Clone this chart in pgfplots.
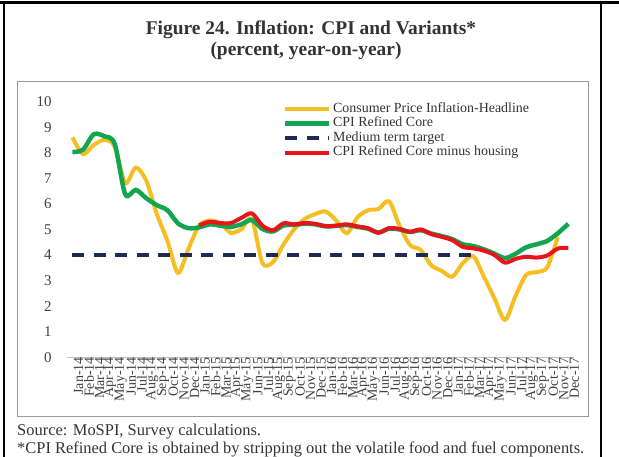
\documentclass[border=0pt]{standalone}
\usepackage{fontspec}
\setmainfont{Liberation Serif}
\usepackage{pgfplots}
\usepackage{pgfplotstable}
\pgfplotsset{compat=1.18}
\definecolor{cpiY}{HTML}{F6BE22}
\definecolor{cpiG}{HTML}{12A650}
\definecolor{cpiR}{HTML}{E8141B}
\definecolor{cpiN}{HTML}{1F2A55}

\pgfplotstableread{
x y
0 8.60
1 7.95
2 8.30
3 8.50
4 8.25
5 6.82
6 7.42
7 6.90
8 5.60
9 4.55
10 3.30
11 4.25
12 5.15
13 5.35
14 5.25
15 4.87
16 5.01
17 5.40
18 3.69
19 3.72
20 4.41
21 5.00
22 5.41
23 5.60
24 5.70
25 5.35
26 4.85
27 5.47
28 5.75
29 5.80
30 6.10
31 5.15
32 4.39
33 4.20
34 3.60
35 3.38
36 3.15
37 3.68
38 3.95
39 3.15
40 2.30
41 1.46
42 2.40
43 3.22
44 3.33
45 3.52
46 4.70
}\headline

\pgfplotstableread{
x y
0 8.03
1 8.12
2 8.72
3 8.65
4 8.35
5 6.38
6 6.55
7 6.22
8 5.95
9 5.75
10 5.24
11 5.05
12 5.08
13 5.20
14 5.15
15 5.10
16 5.20
17 5.37
18 5.02
19 4.92
20 5.15
21 5.18
22 5.22
23 5.20
24 5.12
25 5.14
26 5.17
27 5.10
28 5.03
29 4.88
30 5.03
31 5.00
32 4.90
33 4.97
34 4.84
35 4.74
36 4.62
37 4.42
38 4.35
39 4.22
40 4.05
41 3.88
42 4.05
43 4.30
44 4.42
45 4.55
46 4.85
47 5.22
}\refined

\pgfplotstableread{
x y
12 5.16
13 5.30
14 5.25
15 5.25
16 5.45
17 5.63
18 5.15
19 4.97
20 5.24
21 5.20
22 5.25
23 5.22
24 5.13
25 5.15
26 5.20
27 5.12
28 5.05
29 4.87
30 5.05
31 5.02
32 4.91
33 5.00
34 4.82
35 4.71
36 4.58
37 4.32
38 4.26
39 4.17
40 4.00
41 3.70
42 3.85
43 3.93
44 3.90
45 3.98
46 4.25
47 4.28
}\refinedhousing

\begin{document}
\begin{tikzpicture}[x=1bp,y=1bp]
\useasboundingbox (0,0) rectangle (619,457);
% outer frame
\draw[line width=2.5bp,black] (0,454.5) -- (619,454.5);
\draw[line width=2bp,black] (4,455) -- (4,0);
\draw[line width=2bp,black] (600.5,455) -- (600.5,0);
% inner chart box
\draw[line width=1bp,black!40] (17.5,40) rectangle (588.5,375);
% titles
\node[font=\bfseries\fontsize{19.5}{22}\selectfont,text=black!80] at (311,427.5) {Figure 24. Inflation: CPI and Variants*};
\node[font=\bfseries\fontsize{19.5}{22}\selectfont,text=black!80] at (306,406) {(percent, year-on-year)};
% notes
\node[font=\fontsize{16.5}{18}\selectfont,text=black!80,anchor=west,inner sep=0pt] at (17,25) {Source: MoSPI, Survey calculations.};
\node[font=\fontsize{16.5}{18}\selectfont,text=black!80,anchor=west,inner sep=0pt] at (17,7.5) {*CPI Refined Core is obtained by stripping out the volatile food and fuel components.};

\begin{axis}[
  at={(67.2bp,99.8bp)}, anchor=south west,
  scale only axis, width=506.4bp, height=255.5bp,
  xmin=-0.5, xmax=47.5, ymin=0, ymax=10,
  axis lines*=left,
  x axis line style={draw=black!25,line width=1bp,-},
  y axis line style={draw=none},
  major tick length=0pt,
  ytick={0,1,...,10},
  xtick={0,1,...,47},
  xticklabels={Jan-14,Feb-14,Mar-14,Apr-14,May-14,Jun-14,Jul-14,Aug-14,Sep-14,Oct-14,Nov-14,Dec-14,
               Jan-15,Feb-15,Mar-15,Apr-15,May-15,Jun-15,Jul-15,Aug-15,Sep-15,Oct-15,Nov-15,Dec-15,
               Jan-16,Feb-16,Mar-16,Apr-16,May-16,Jun-16,Jul-16,Aug-16,Sep-16,Oct-16,Nov-16,Dec-16,
               Jan-17,Feb-17,Mar-17,Apr-17,May-17,Jun-17,Jul-17,Aug-17,Sep-17,Oct-17,Nov-17,Dec-17},
  /pgf/number format/assume math mode=true,
  yticklabel style={font=\fontsize{15}{16}\selectfont,text=black!75,anchor=east,xshift=-12bp},
  xticklabel style={font=\fontsize{14}{15}\selectfont,text=black!75,rotate=90,anchor=east,inner sep=0pt,yshift=-6bp},
  legend style={at={(0.426,1.0)},anchor=north west,draw=none,fill=none,inner sep=0pt,
    font=\fontsize{14}{15}\selectfont,text=black!80,cells={anchor=west},row sep=0pt,
    nodes={text height=9bp,text depth=2.5bp,inner sep=1.5bp}},
  legend image code/.code={\draw[#1] (0bp,0bp) -- (44bp,0bp);},
  clip=false,
]
\addplot[cpiY,line width=4bp,smooth,tension=0.5] table[x=x,y=y] {\headline};
\addlegendentry{Consumer Price Inflation-Headline}
\addplot[cpiG,line width=4.5bp,smooth,tension=0.5] table[x=x,y=y] {\refined};
\addlegendentry{CPI Refined Core}
\addplot[cpiN,line width=3.5bp,dash pattern=on 12bp off 9.5bp] coordinates {(0,4) (38,4)};
\addlegendentry{Medium term target}
\addplot[cpiR,line width=4bp,smooth,tension=0.5] table[x=x,y=y] {\refinedhousing};
\addlegendentry{CPI Refined Core minus housing}
\end{axis}
\end{tikzpicture}
\end{document}
